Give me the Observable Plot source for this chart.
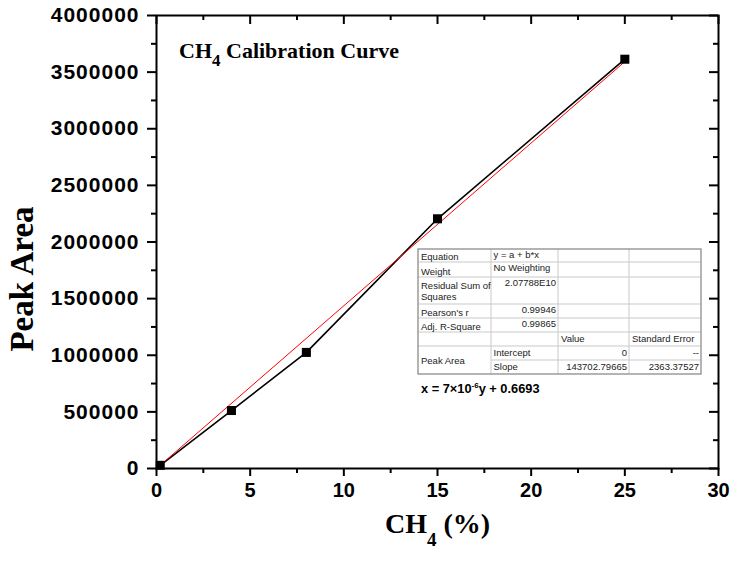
<!DOCTYPE html>
<html><head><meta charset="utf-8">
<script src="https://cdn.jsdelivr.net/npm/d3@7"></script>
<script src="https://cdn.jsdelivr.net/npm/@observablehq/plot@0.6"></script>
<style>body{margin:0;background:#fff}</style>
</head><body><div id="chart"></div>
<script>
// ---- data ----
const ch4Percent = [0.2, 4, 8, 15, 25];
const peakArea = [28000, 512000, 1025000, 2205000, 3614000];
const fitIntercept = 0;
const fitSlope = 143702.79665;
const xTicks = [0, 5, 10, 15, 20, 25, 30];
const xMinorTicks = [2.5, 7.5, 12.5, 17.5, 22.5, 27.5];
const yTicks = [0, 500000, 1000000, 1500000, 2000000, 2500000, 3000000, 3500000, 4000000];
const yMinorTicks = [250000, 750000, 1250000, 1750000, 2250000, 2750000, 3250000, 3750000];
const statLabels = ["Equation", "Weight", "Residual Sum of|Squares", "Pearson's r", "Adj. R-Square"];
const statValues = ["y = a + b*x", "No Weighting", "2.07788E10", "0.99946", "0.99865"];
const paramHeaders = ["Value", "Standard Error"];
const dependentName = "Peak Area";
const paramNames = ["Intercept", "Slope"];
const paramValues = ["0", "143702.79665"];
const paramErrors = ["--", "2363.37527"];
const titleMain = "CH", titleSub = "4", titleRest = " Calibration Curve";
const xTitleMain = "CH", xTitleSub = "4", xTitleRest = " (%)";
const yTitle = "Peak Area";
const formulaA = "x = 7\u00d710", formulaExp = "-6", formulaB = "y + 0.6693";

// ---- layout ----
const W = 733, H = 562, mL = 156, mR = 15, mT = 15, mB = 94;
const plotW = W - mL - mR, plotH = H - mT - mB;

const points = ch4Percent.map((x, i) => ({x, y: peakArea[i]}));
const fitLine = d3.extent(ch4Percent).map(x => ({x, y: fitIntercept + fitSlope * x}));

const chart = Plot.plot({
  width: W, height: H,
  marginLeft: mL, marginRight: mR, marginTop: mT, marginBottom: mB,
  style: {fontFamily: "Arial, 'Liberation Sans', sans-serif", background: "#fff", color: "#000"},
  x: {domain: [0, 30]},
  y: {domain: [0, 4000000]},
  marks: [
    Plot.line(points, {x: "x", y: "y", stroke: "#000", strokeWidth: 1.6}),
    Plot.line(fitLine, {x: "x", y: "y", stroke: "#ff0000", strokeWidth: 1}),
    Plot.dot(points, {x: "x", y: "y", symbol: "square", r: 5.1, fill: "#000", stroke: null}),
    Plot.axisY(yTicks, {tickSize: 9, tickPadding: 8, tickFormat: d => String(d), fontSize: 21, fontWeight: "bold", label: null, strokeWidth: 2}),
    Plot.axisY(yMinorTicks, {tickSize: 5, tickFormat: () => "", label: null, strokeWidth: 2}),
    Plot.axisX(xTicks, {tickSize: 8, tickPadding: 6, tickFormat: d => String(d), fontSize: 20, fontWeight: "bold", label: null, strokeWidth: 2}),
    Plot.axisX(xMinorTicks, {tickSize: 5, tickFormat: () => "", label: null, strokeWidth: 2}),
    Plot.tickX(xTicks, {x: d => d, insetBottom: plotH - 9, strokeWidth: 2}),
    Plot.tickX(xMinorTicks, {x: d => d, insetBottom: plotH - 5, strokeWidth: 2}),
    Plot.tickY(yTicks, {y: d => d, insetLeft: plotW - 9, strokeWidth: 2}),
    Plot.tickY(yMinorTicks, {y: d => d, insetLeft: plotW - 5, strokeWidth: 2}),
    Plot.frame({strokeWidth: 2})
  ]
});
document.getElementById("chart").appendChild(chart);

const svg = d3.select(chart);
// widen the y tick labels slightly, as in the reference
svg.selectAll("g[aria-label='y-axis tick label'] text").attr("letter-spacing", "1px");
const serif = "'Liberation Serif', 'Times New Roman', serif";

// title
const t = svg.append("text").attr("x", 179).attr("y", 58).attr("text-anchor", "start")
  .attr("font-family", serif).attr("font-weight", "bold").attr("font-size", 22).attr("fill", "#000");
t.append("tspan").text(titleMain);
t.append("tspan").attr("font-size", 17).attr("dy", 8).text(titleSub);
t.append("tspan").attr("dy", -8).text(titleRest);

// x axis title
const xt = svg.append("text").attr("x", 437.5).attr("y", 533).attr("text-anchor", "middle")
  .attr("font-family", serif).attr("font-weight", "bold").attr("font-size", 28).attr("fill", "#000");
xt.append("tspan").text(xTitleMain);
xt.append("tspan").attr("font-size", 19).attr("dy", 13).text(xTitleSub);
xt.append("tspan").attr("dy", -13).text(xTitleRest);

// y axis title
svg.append("text").attr("transform", "translate(33,279) rotate(-90)").attr("text-anchor", "middle")
  .attr("font-family", serif).attr("font-weight", "bold").attr("font-size", 33).attr("fill", "#000")
  .text(yTitle);

// stats table
const colX = [418, 491, 558, 629, 701];
const rowY = [249, 262, 277, 304, 318, 332, 346, 360, 374];
const g = svg.append("g").attr("font-family", "Arial, 'Liberation Sans', sans-serif").attr("font-size", 9.5).attr("fill", "#222").attr("text-anchor", "start");
g.append("rect").attr("x", colX[0]).attr("y", rowY[0]).attr("width", colX[4] - colX[0]).attr("height", rowY[8] - rowY[0]).attr("fill", "#fff");
const inner = "#c9c9c9";
for (let i = 1; i < rowY.length - 1; i++) {
  g.append("line").attr("x1", i === 7 ? colX[1] : colX[0]).attr("x2", colX[4])
    .attr("y1", rowY[i]).attr("y2", rowY[i]).attr("stroke", inner).attr("stroke-width", 1);
}
for (let j = 1; j < colX.length - 1; j++) {
  g.append("line").attr("x1", colX[j]).attr("x2", colX[j]).attr("y1", rowY[0]).attr("y2", rowY[8])
    .attr("stroke", inner).attr("stroke-width", 1);
}
g.append("rect").attr("x", colX[0]).attr("y", rowY[0]).attr("width", colX[4] - colX[0]).attr("height", rowY[8] - rowY[0])
  .attr("fill", "none").attr("stroke", "#8c8c8c").attr("stroke-width", 1.3);

function cellText(txt, x, y, anchor) {
  g.append("text").attr("x", x).attr("y", y).attr("text-anchor", anchor || "start").text(txt);
}
statLabels.forEach((lab, i) => {
  const parts = lab.split("|");
  if (parts.length > 1) {
    cellText(parts[0], colX[0] + 3, rowY[i] + 12);
    cellText(parts[1], colX[0] + 3, rowY[i] + 23);
  } else {
    cellText(lab, colX[0] + 3, rowY[i + 1] - 2);
  }
  const right = i >= 2;
  cellText(statValues[i], right ? colX[2] - 2 : colX[1] + 2.5, rowY[i] + 9, right ? "end" : "start");
});
cellText(paramHeaders[0], colX[2] + 3, rowY[5] + 9.7);
cellText(paramHeaders[1], colX[3] + 3, rowY[5] + 9.7);
cellText(dependentName, colX[0] + 3, (rowY[6] + rowY[8]) / 2 + 4);
paramNames.forEach((nm, k) => {
  cellText(nm, colX[1] + 2.5, rowY[6 + k] + 9.5);
  cellText(paramValues[k], colX[3] - 2, rowY[6 + k] + 9.5, "end");
  cellText(paramErrors[k], colX[4] - 2, rowY[6 + k] + 9.5, "end");
});

// formula
const f = svg.append("text").attr("x", 421).attr("y", 393).attr("text-anchor", "start")
  .attr("font-family", "Arial, 'Liberation Sans', sans-serif").attr("font-weight", "bold").attr("font-size", 12.8).attr("fill", "#000");
f.append("tspan").text(formulaA);
f.append("tspan").attr("font-size", 8).attr("dy", -5).text(formulaExp);
f.append("tspan").attr("dy", 5).text(formulaB);
</script>
</body></html>
